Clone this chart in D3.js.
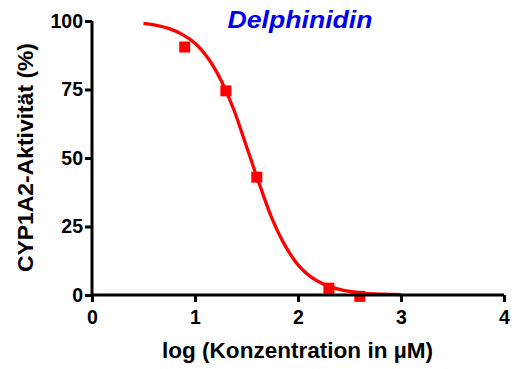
<!DOCTYPE html>
<html>
<head>
<meta charset="utf-8">
<script src="https://cdn.jsdelivr.net/npm/d3@7"></script>
<style>
  body { margin: 0; background: #fff; }
  text { font-family: "Liberation Sans", Arial, sans-serif; font-weight: bold; }
</style>
</head>
<body>
<div id="chart"></div>
<script>
const title = 'Delphinidin';
const xLabel = 'log (Konzentration in µM)';
const yLabel = 'CYP1A2-Aktivität (%)';

// measured points
const pointX = [0.9, 1.3, 1.6, 2.3, 2.6];
const pointY = [90.5, 74.5, 43, 2.5, -0.5];

// fitted curve
const curveX = [0.5, 0.625, 0.75, 0.875, 1.0, 1.125, 1.25, 1.375, 1.5, 1.625, 1.75, 1.875, 2.0, 2.125, 2.25, 2.375, 2.5, 2.625, 2.75, 2.875, 3.0];
const curveY = [99.1, 98.4, 97.2, 95.1, 91.9, 86.5, 78.6, 67.8, 54.2, 40.5, 27.7, 18.0, 11.0, 6.6, 3.9, 2.3, 1.3, 0.7, 0.4, 0.25, 0.14];

const xTicks = [0, 1, 2, 3, 4];
const yTicks = [0, 25, 50, 75, 100];

const width = 514, height = 369;
const margin = { top: 21, left: 92 };
const innerW = 504 - margin.left;
const innerH = 295 - margin.top;

const svg = d3.select('#chart')
  .append('svg')
  .attr('width', width)
  .attr('height', height);

const g = svg.append('g')
  .attr('transform', `translate(${margin.left},${margin.top})`);

const x = d3.scaleLinear().domain([0, 4]).range([0, innerW]);
const y = d3.scaleLinear().domain([0, 100]).range([innerH, 0]);

const red = '#ff0000';

// curve
const line = d3.line()
  .x((d, i) => x(curveX[i]))
  .y(d => y(d))
  .curve(d3.curveCatmullRom);

g.append('path')
  .datum(curveY)
  .attr('d', line)
  .attr('fill', 'none')
  .attr('stroke', red)
  .attr('stroke-width', 3.3);

// markers
const s = 11;
g.selectAll('rect.pt')
  .data(pointY)
  .enter()
  .append('rect')
  .attr('class', 'pt')
  .attr('x', (d, i) => x(pointX[i]) - s / 2)
  .attr('y', d => y(d) - s / 2)
  .attr('width', s)
  .attr('height', s)
  .attr('fill', red);

// axes
const xAxis = g.append('g')
  .attr('transform', `translate(0,${innerH})`)
  .call(d3.axisBottom(x).tickValues(xTicks).tickSize(7).tickPadding(8).tickFormat(d3.format('d')));

const yAxis = g.append('g')
  .call(d3.axisLeft(y).tickValues(yTicks).tickSize(7).tickPadding(2).tickFormat(d3.format('d')));

[xAxis, yAxis].forEach(a => {
  a.select('.domain').attr('stroke', '#000').attr('stroke-width', 3);
  a.selectAll('.tick line').attr('stroke', '#000').attr('stroke-width', 3);
  a.selectAll('.tick text')
    .attr('fill', '#000')
    .style('font-size', '19.5px')
    .style('font-family', '"Liberation Sans", Arial, sans-serif')
    .style('font-weight', 'bold');
});
xAxis.select('.domain').attr('d', `M0,0H${innerW}`);
yAxis.select('.domain').attr('d', `M0,${innerH}V0`);

// labels
svg.append('text')
  .attr('x', 297.5)
  .attr('y', 358)
  .attr('text-anchor', 'middle')
  .attr('textLength', 271)
  .attr('lengthAdjust', 'spacingAndGlyphs')
  .style('font-size', '22px')
  .attr('fill', '#000')
  .text(xLabel);

svg.append('text')
  .attr('transform', 'rotate(-90)')
  .attr('x', -157.5)
  .attr('y', 33)
  .attr('text-anchor', 'middle')
  .attr('textLength', 229)
  .attr('lengthAdjust', 'spacingAndGlyphs')
  .style('font-size', '22px')
  .attr('fill', '#000')
  .text(yLabel);

svg.append('text')
  .attr('x', 300)
  .attr('y', 28)
  .attr('text-anchor', 'middle')
  .attr('textLength', 145)
  .attr('lengthAdjust', 'spacingAndGlyphs')
  .style('font-size', '23.5px')
  .style('font-style', 'italic')
  .attr('fill', '#0000f0')
  .text(title);
</script>
</body>
</html>
